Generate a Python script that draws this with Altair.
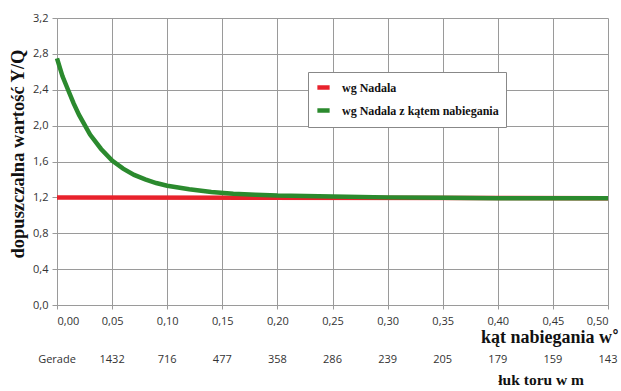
import altair as alt
import pandas as pd

# data
x_green = [0.00, 0.005, 0.01, 0.015, 0.02, 0.03, 0.04, 0.05, 0.06, 0.07, 0.08, 0.09, 0.10,
           0.12, 0.14, 0.16, 0.18, 0.20, 0.25, 0.30, 0.35, 0.40, 0.45, 0.50]
y_green = [2.75, 2.55, 2.40, 2.25, 2.12, 1.90, 1.74, 1.61, 1.52, 1.45, 1.40, 1.36, 1.33,
           1.29, 1.26, 1.24, 1.23, 1.22, 1.21, 1.20, 1.195, 1.19, 1.19, 1.19]
x_red = [0.00, 0.50]
y_red = [1.20, 1.19]

series_red = "wg Nadala"
series_green = "wg Nadala z kątem nabiegania"

tick_x = [0.00, 0.05, 0.10, 0.15, 0.20, 0.25, 0.30, 0.35, 0.40, 0.45, 0.50]
arc_labels = ["Gerade", "1432", "716", "477", "358", "286", "239", "205", "179", "159", "143"]

rows = [{"x": a, "y": b, "s": series_red, "o": 0} for a, b in zip(x_red, y_red)]
rows += [{"x": a, "y": b, "s": series_green, "o": 1} for a, b in zip(x_green, y_green)]
df = pd.DataFrame(rows)
arc_df = pd.DataFrame({"x": tick_x, "label": arc_labels})

W, H = 551, 287
xscale = alt.Scale(domain=[0, 0.5], nice=False)
yscale = alt.Scale(domain=[0, 3.2], nice=False)

lines = alt.Chart(df).mark_line(strokeWidth=4.5, clip=False).encode(
    x=alt.X("x:Q", scale=xscale, axis=alt.Axis(
        values=tick_x, title=None, grid=True, gridColor="#9a9a9a", gridWidth=1,
        domainColor="#9a9a9a", tickColor="#9a9a9a", tickSize=4,
        labelExpr="replace(format(datum.value, '.2f'), '.', ',')",
        labelFont="Open Sans", labelFontSize=11, labelColor="#333333", labelPadding=6)),
    y=alt.Y("y:Q", scale=yscale, axis=alt.Axis(
        values=[0, 0.4, 0.8, 1.2, 1.6, 2.0, 2.4, 2.8, 3.2], title=None, grid=True,
        gridColor="#9a9a9a", gridWidth=1, domainColor="#9a9a9a", tickColor="#9a9a9a",
        tickSize=5, labelExpr="replace(format(datum.value, '.1f'), '.', ',')",
        labelFont="Open Sans", labelFontSize=11, labelColor="#333333", labelPadding=4)),
    color=alt.Color("s:N", scale=alt.Scale(domain=[series_red, series_green],
                                           range=["#e8222c", "#2b8a2e"]),
                    legend=alt.Legend(title=None, orient="none", legendX=251, legendY=54,
                                      symbolType="stroke", symbolStrokeWidth=4.5, symbolSize=150,
                                      labelFont="Liberation Serif", labelFontWeight="bold",
                                      labelFontSize=12, labelColor="#111111", labelLimit=400,
                                      fillColor="white", strokeColor="#888888",
                                      padding=7, rowPadding=4, labelOffset=10)),
    order="o:Q",
)

arc = alt.Chart(arc_df).mark_text(font="Open Sans", fontSize=11, color="#333333",
                                  baseline="middle").encode(
    x=alt.X("x:Q", scale=xscale), y=alt.value(H + 55), text="label:N")

xtitle = alt.Chart(pd.DataFrame({"t": ["kąt nabiegania w"]})).mark_text(
    font="Liberation Serif", fontWeight="bold", fontSize=18, align="right",
    baseline="alphabetic", color="#111111"
).encode(x=alt.value(W + 4), y=alt.value(H + 38), text="t:N")

degree = alt.Chart(pd.DataFrame({"t": ["°"]})).mark_text(
    font="DejaVu Sans", fontWeight="bold", fontSize=14, align="left",
    baseline="alphabetic", color="#111111"
).encode(x=alt.value(W + 4), y=alt.value(H + 35), text="t:N")

arctitle = alt.Chart(pd.DataFrame({"t": ["łuk toru w m"]})).mark_text(
    font="Liberation Serif", fontWeight="bold", fontSize=15.5, align="right",
    baseline="middle", color="#111111"
).encode(x=alt.value(527), y=alt.value(H + 75), text="t:N")

ytitle = alt.Chart(pd.DataFrame({"t": ["dopuszczalna wartość Y/Q"]})).mark_text(
    font="Liberation Serif", fontWeight="bold", fontSize=18.5, angle=270,
    baseline="middle", color="#111111"
).encode(x=alt.value(-39), y=alt.value(136), text="t:N")

chart = alt.layer(lines, arc, xtitle, degree, arctitle, ytitle).properties(
    width=W, height=H,
    autosize=alt.AutoSizeParams(type="none"),
    padding={"left": 57, "top": 18, "right": 13, "bottom": 86},
    background="white",
).configure_view(stroke=None)

chart.save("out.html", embed_options={"renderer": "svg", "actions": False})
